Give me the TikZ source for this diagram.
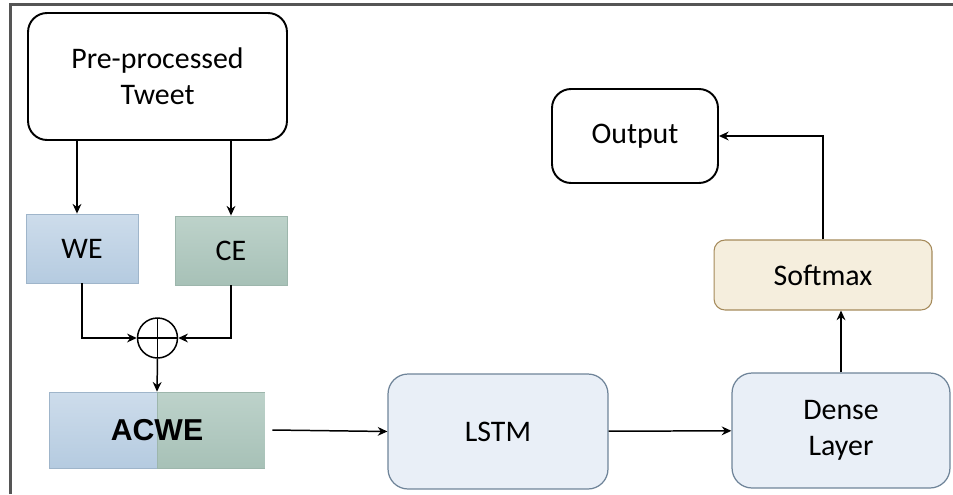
\documentclass[tikz,border=0pt]{standalone}
\usepackage{fontspec}
\setmainfont{Carlito}
\newfontfamily\acwefont{Liberation Sans}
\usetikzlibrary{positioning, arrows.meta}

\definecolor{weTop}{HTML}{CDDCEB}
\definecolor{weBot}{HTML}{B5CBE0}
\definecolor{weLine}{HTML}{9FB5CA}
\definecolor{ceTop}{HTML}{BDD2CA}
\definecolor{ceBot}{HTML}{A7C1B7}
\definecolor{ceLine}{HTML}{9DB6AC}
\definecolor{layerFill}{HTML}{E9EFF7}
\definecolor{layerLine}{HTML}{6F8499}
\definecolor{softFill}{HTML}{F5EEDD}
\definecolor{softLine}{HTML}{A58A5A}
\definecolor{frameLine}{HTML}{555555}

\tikzset{
  x=0.02cm, y=-0.02cm, % one unit is one pixel, y pointing down
  flow/.style={-{Stealth[length=5.5pt,width=5pt]}, line width=0.85pt}, % connectors
  txt/.style={font=\fontsize{17}{20.5}\selectfont, align=center, text=black},
  blackbox/.style={txt, draw, line width=1.1pt, rounded corners=0.38cm},
  emb/.style={txt, line width=0.5pt}, % embedding blocks
  layer/.style={txt, draw=layerLine, fill=layerFill, line width=0.7pt,
    rounded corners=0.4cm, minimum height=2.3cm},
}

\begin{document}
\begin{tikzpicture}
  \useasboundingbox (0,0) rectangle (953,494);
  % open frame on the left and top
  \draw[frameLine, line width=1.4pt] (10.5,494) |- (953,4.5);

  \node[blackbox, minimum width=5.18cm, minimum height=2.54cm] (tweet) at (157.5,76.5) {Pre-processed\\Tweet};
  \node[emb, draw=weLine, top color=weTop, bottom color=weBot,
    minimum width=2.24cm, minimum height=1.38cm] (we) at (82,248.5) {WE};
  \node[emb, draw=ceLine, top color=ceTop, bottom color=ceBot,
    minimum width=2.24cm, minimum height=1.38cm] (ce) at (231,250.5) {CE};
  \node[circle, draw, line width=0.85pt, minimum size=0.8cm, inner sep=0pt,
    path picture={
      \draw[line width=0.85pt] (path picture bounding box.north) -- (path picture bounding box.south)
        (path picture bounding box.west) -- (path picture bounding box.east);
    }] (sum) at (157.5,338) {};
  \node[minimum width=4.32cm, minimum height=1.52cm, inner sep=0pt,
    font=\acwefont\bfseries\fontsize{17.2}{20}\selectfont,
    path picture={
      \shade[top color=weTop, bottom color=weBot, draw=weLine]
        (path picture bounding box.south west) rectangle (path picture bounding box.north);
      \shade[top color=ceTop, bottom color=ceBot, draw=ceLine]
        (path picture bounding box.south) rectangle (path picture bounding box.north east);
    }] (acwe) at (157,430) {ACWE};

  \node[layer, minimum width=4.4cm] (lstm) at (498,431.5) {LSTM};
  \node[layer, minimum width=4.36cm] (dense) at (841,430.5) {Dense\\Layer};
  \node[txt, draw=softLine, fill=softFill, line width=0.6pt, rounded corners=0.22cm,
    minimum width=4.36cm, minimum height=1.4cm] (soft) at (823,275) {Softmax};
  \node[blackbox, minimum width=3.32cm, minimum height=1.88cm] (out) at (635,136) {Output};

  \draw[flow] ([xshift=-0.1cm]we.north |- tweet.south) -- ([xshift=-0.1cm]we.north);
  \draw[flow] (ce.north |- tweet.south) -- (ce.north);
  \draw[flow] (we.south) |- (sum.west);
  \draw[flow] (ce.south) |- (sum.east);
  \draw[flow] (sum.south) -- (acwe.north);
  \draw[flow] ([xshift=0.14cm]acwe.east) -- (lstm.west);
  \draw[flow] (lstm) -- (dense);
  \draw[flow] (dense.north) -- (dense.north |- soft.south);
  \draw[flow] (soft.north) |- (out.east);
\end{tikzpicture}
\end{document}
